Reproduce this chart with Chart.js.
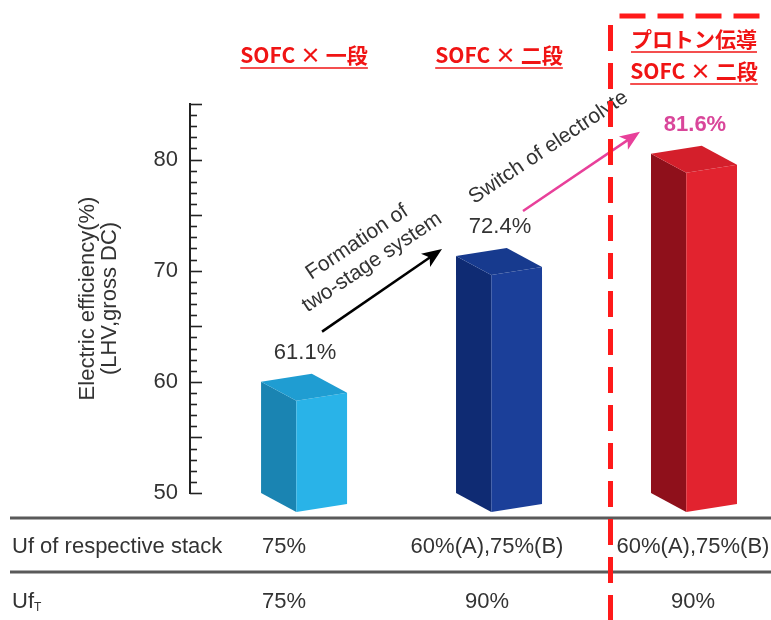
<!DOCTYPE html>
<html>
<head>
<meta charset="utf-8">
<script src="https://cdn.jsdelivr.net/npm/chart.js@4"></script>
<style>
  html, body { margin: 0; padding: 0; background: #fff; }
</style>
</head>
<body>
<canvas id="chart" width="771" height="620"></canvas>
<script>
// chart values
const categories = [["SOFC × 一段"], ["SOFC × 二段"], ["プロトン伝導", "SOFC × 二段"]];
const efficiency = [61.1, 72.4, 81.6];
const valueLabels = ["61.1%", "72.4%", "81.6%"];
const yTicks = [50, 60, 70, 80];
const ufStack = ["75%", "60%(A),75%(B)", "60%(A),75%(B)"];
const ufTotal = ["75%", "90%", "90%"];

// bar face colours (left side, front, top)
const faceLeft = ["#1a84b2", "#0f2b73", "#8f101b"];
const faceFront = ["#29b3e8", "#1b3f99", "#e2232f"];
const faceTop = ["#1f9dd2", "#173a8e", "#d41f2b"];

const FONT = "Arial, 'Liberation Sans', sans-serif";
const CJK = "'Noto Sans CJK JP', sans-serif";
const TEXT = "#333";

function poly(ctx, pts, color) {
  ctx.beginPath();
  ctx.moveTo(pts[0][0], pts[0][1]);
  for (let i = 1; i < pts.length; i++) ctx.lineTo(pts[i][0], pts[i][1]);
  ctx.closePath();
  ctx.fillStyle = color;
  ctx.fill();
}

function arrow(ctx, x1, y1, x2, y2, color) {
  const a = Math.atan2(y2 - y1, x2 - x1), head = 20, half = 8;
  const c = Math.cos(a), s = Math.sin(a);
  ctx.strokeStyle = color;
  ctx.fillStyle = color;
  ctx.lineWidth = 2.5;
  ctx.beginPath();
  ctx.moveTo(x1, y1);
  ctx.lineTo(x2 - head * 0.7 * c, y2 - head * 0.7 * s);
  ctx.stroke();
  ctx.beginPath();
  ctx.moveTo(x2, y2);
  ctx.lineTo(x2 - head * c + half * s, y2 - head * s - half * c);
  ctx.lineTo(x2 - head * 0.75 * c, y2 - head * 0.75 * s);
  ctx.lineTo(x2 - head * c - half * s, y2 - head * s + half * c);
  ctx.closePath();
  ctx.fill();
}

function rotText(ctx, text, x, y, angle) {
  ctx.save();
  ctx.translate(x, y);
  ctx.rotate(angle);
  ctx.fillText(text, 0, 0);
  ctx.restore();
}

// 3D bars drawn over the (transparent) Chart.js bar elements
const bars3d = {
  id: "bars3d",
  afterDatasetsDraw(chart) {
    const ctx = chart.ctx;
    chart.getDatasetMeta(0).data.forEach((bar, i) => {
      const w = bar.width;
      const l = bar.x - w / 2, r = bar.x + w / 2;
      const f = l + w * 0.41, b = l + r - f;
      const yt = bar.y, yb = bar.base;
      const tl = yt + 12, tf = yt + 31, tr = yt + 23, tb = yt + 4;
      const bl = yb, bf = yb + 19, br = yb + 11;
      poly(ctx, [[l, tl], [f, tf], [f, bf], [l, bl]], faceLeft[i]);
      poly(ctx, [[f, tf], [r, tr], [r, br], [f, bf]], faceFront[i]);
      poly(ctx, [[l, tl], [b, tb], [r, tr], [f, tf]], faceTop[i]);
    });
  }
};

// minor ticks pointing into the plot, one per unit
const axisTicks = {
  id: "axisTicks",
  afterDraw(chart) {
    const ctx = chart.ctx, y = chart.scales.y, x0 = chart.chartArea.left;
    ctx.save();
    ctx.strokeStyle = "#222";
    ctx.lineWidth = 1.6;
    for (let v = y.min; v <= y.max; v++) {
      const py = Math.round(y.getPixelForValue(v)) + 0.5;
      const len = v % 5 === 0 ? 12 : 7;
      ctx.beginPath();
      ctx.moveTo(x0, py);
      ctx.lineTo(x0 + len, py);
      ctx.stroke();
    }
    ctx.restore();
  }
};

const annotations = {
  id: "annotations",
  afterDraw(chart) {
    const ctx = chart.ctx;
    const bars = chart.getDatasetMeta(0).data;
    const yBase = chart.scales.y.getPixelForValue(chart.scales.y.min);
    ctx.save();

    // category headers
    ctx.fillStyle = "#f01414";
    ctx.strokeStyle = "#f01414";
    ctx.font = "bold 21px " + CJK;
    ctx.textAlign = "center";
    ctx.textBaseline = "middle";
    categories.forEach((lines, i) => {
      lines.forEach((t, j) => {
        const ty = 55 + (j - (lines.length - 1) / 2) * 32;
        ctx.fillText(t, bars[i].x, ty);
        const tw = ctx.measureText(t).width;
        ctx.lineWidth = 1.5;
        ctx.beginPath();
        ctx.moveTo(bars[i].x - tw / 2, ty + 13);
        ctx.lineTo(bars[i].x + tw / 2, ty + 13);
        ctx.stroke();
      });
    });

    // value labels
    bars.forEach((bar, i) => {
      ctx.fillStyle = i === 2 ? "#d9469a" : TEXT;
      ctx.font = (i === 2 ? "bold " : "") + "22px " + FONT;
      ctx.fillText(valueLabels[i], bar.x + 1, bar.y - 17);
    });

    // arrows
    const a1 = [bars[0].x + 18, bars[0].y - 38, bars[1].x - 57, bars[1].y + 5];
    const a2 = [bars[1].x + 24, bars[1].y - 33, bars[2].x - 54, bars[2].y - 10];
    arrow(ctx, a1[0], a1[1], a1[2], a1[3], "#000");
    arrow(ctx, a2[0], a2[1], a2[2], a2[3], "#e8409a");

    // arrow captions
    const ang = -0.59;
    ctx.fillStyle = TEXT;
    ctx.font = "21px " + FONT;
    const m1x = (a1[0] + a1[2]) / 2, m1y = (a1[1] + a1[3]) / 2;
    rotText(ctx, "Formation of", m1x - 25, m1y - 48, ang);
    rotText(ctx, "two-stage system", m1x - 10, m1y - 28, ang);
    const m2x = (a2[0] + a2[2]) / 2, m2y = (a2[1] + a2[3]) / 2;
    rotText(ctx, "Switch of electrolyte", m2x - 33, m2y - 24, ang);

    // table under the plot
    ctx.strokeStyle = "#5a5a5a";
    ctx.lineWidth = 3;
    [yBase + 25, yBase + 79].forEach(ly => {
      ctx.beginPath();
      ctx.moveTo(10, ly);
      ctx.lineTo(chart.width, ly);
      ctx.stroke();
    });
    ctx.fillStyle = TEXT;
    ctx.font = "22px " + FONT;
    ctx.textAlign = "left";
    ctx.fillText("Uf of respective stack", 12, yBase + 54);
    ctx.fillText("Uf", 12, yBase + 109);
    const ufw = ctx.measureText("Uf").width;
    ctx.font = "12px " + FONT;
    ctx.fillText("T", 12 + ufw, yBase + 115);
    ctx.font = "22px " + FONT;
    ctx.textAlign = "center";
    const colShift = [-20, -12, -1];
    bars.forEach((bar, i) => {
      ctx.fillText(ufStack[i], bar.x + colShift[i], yBase + 54);
      ctx.fillText(ufTotal[i], bar.x + colShift[i], yBase + 109);
    });

    // red dashed frame around the proton-conducting case
    const fx = (bars[1].x + bars[2].x) / 2 + 14;
    ctx.strokeStyle = "#ff1a1a";
    ctx.lineWidth = 5;
    ctx.setLineDash([26, 12]);
    ctx.beginPath();
    ctx.moveTo(fx + 9, 16);
    ctx.lineTo(chart.width, 16);
    ctx.stroke();
    ctx.beginPath();
    ctx.moveTo(fx, 25);
    ctx.lineTo(fx, chart.height);
    ctx.stroke();
    ctx.restore();
  }
};

new Chart(document.getElementById("chart"), {
  type: "bar",
  data: {
    datasets: [{
      data: efficiency.map((v, i) => ({ x: i + 1, y: v })),
      base: 50,
      backgroundColor: "rgba(0,0,0,0)",
      borderWidth: 0,
      barThickness: 86
    }]
  },
  options: {
    responsive: false,
    devicePixelRatio: 1,
    animation: false,
    layout: { padding: { top: 104, bottom: 127, left: 0, right: 0 } },
    plugins: { legend: { display: false }, tooltip: { enabled: false } },
    scales: {
      x: { type: "linear", offset: false, min: 0.415, max: 3.395, display: false },
      y: {
        min: 50,
        max: 85,
        afterFit: s => { s.width = 190; },
        afterBuildTicks: s => { s.ticks = yTicks.map(v => ({ value: v })); },
        grid: { display: false, drawTicks: false },
        border: { display: true, color: "#222", width: 2 },
        ticks: { color: TEXT, font: { family: FONT, size: 22 }, padding: 12 },
        title: {
          display: true,
          text: ["Electric efficiency(%)", "(LHV,gross DC)"],
          color: TEXT,
          font: { family: FONT, size: 22, lineHeight: 1.0 },
          padding: { top: 77, bottom: 0 }
        }
      }
    }
  },
  plugins: [bars3d, axisTicks, annotations]
});
</script>
</body>
</html>
